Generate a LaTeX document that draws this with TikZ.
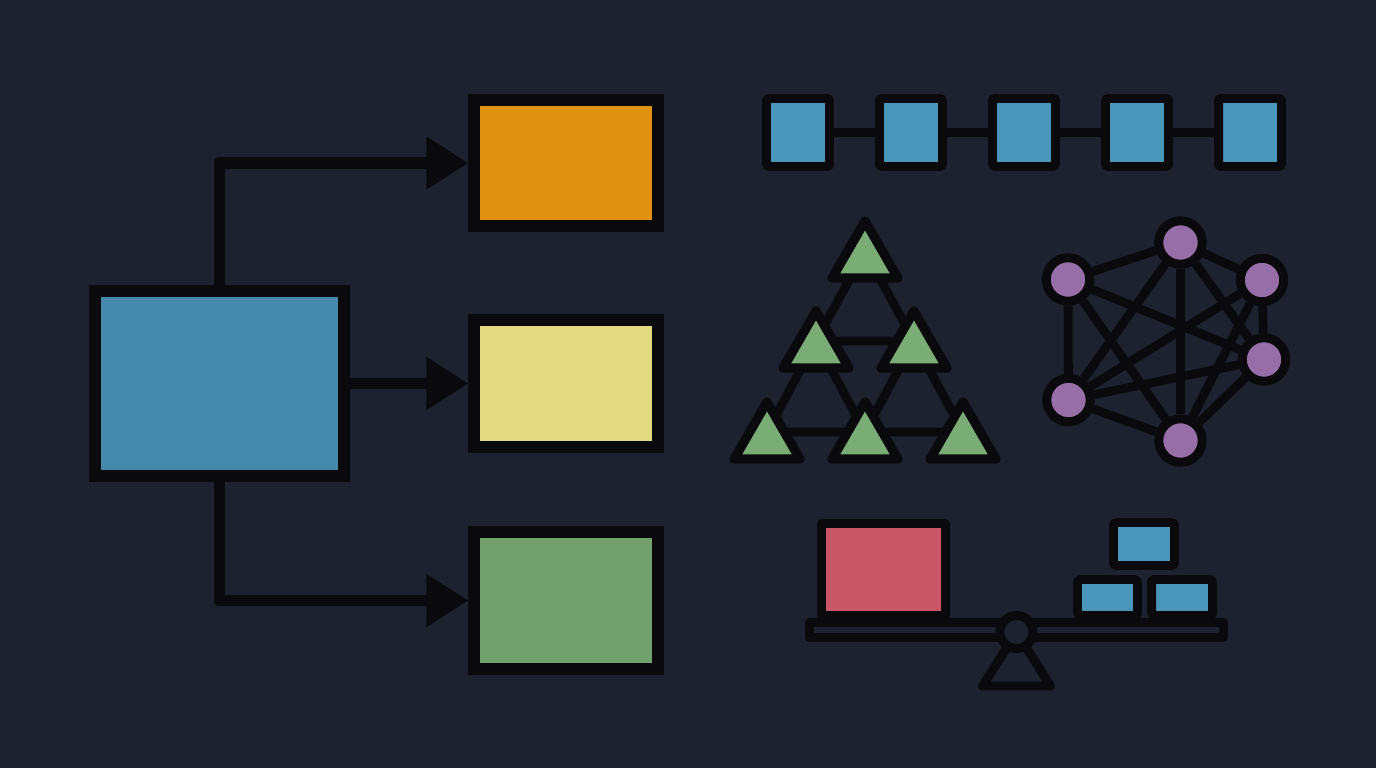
\documentclass[tikz,border=0pt]{standalone}
\usepackage{xcolor}
\usepackage{tikz}
\usetikzlibrary{arrows.meta, shapes, backgrounds}
\definecolor{fondo}{RGB}{29, 33, 48}
\definecolor{tinta}{RGB}{10, 10, 12}
\definecolor{azul}{RGB}{69, 137, 173}
\definecolor{azulclaro}{RGB}{74, 149, 186}
\definecolor{ambar}{RGB}{224, 146, 19}
\definecolor{amarillo}{RGB}{226, 218, 128}
\definecolor{verde}{RGB}{114, 160, 111}
\definecolor{verdeclaro}{RGB}{122, 172, 118}
\definecolor{lila}{RGB}{152, 110, 168}
\definecolor{rojo}{RGB}{200, 86, 102}
\tikzset{
    caja/.style={draw=tinta, line width=6.3pt, inner sep=0pt},
    flecha/.style={-{Triangle[length=0.84cm, width=1cm]}, tinta, line width=6.8pt, line join=round},
    eslabon/.style={draw=tinta, fill=azulclaro, line width=5.1pt, rounded corners=1.5pt, minimum width=1.26cm, minimum height=1.36cm, inner sep=0pt},
    enlace/.style={-, tinta, line width=5pt},
    tri/.style={draw=tinta, fill=verdeclaro, regular polygon, regular polygon sides=3, minimum size=1.52cm, line width=5.3pt, line join=round, inner sep=0pt},
    vert/.style={draw=tinta, fill=lila, circle, minimum size=0.87cm, line width=5.1pt, inner sep=0pt},
    arista/.style={-, tinta, line width=5pt},
    pieza/.style={draw=tinta, line width=5.1pt, inner sep=0pt, line join=round},
    bloque/.style={pieza, fill=azulclaro, rounded corners=1.5pt, minimum width=1.22cm},
}

\begin{document}
\begin{tikzpicture}[x=0.02cm, y=-0.02cm]
    \begin{scope}[on background layer]
        \fill[fondo] (0,0) rectangle (1376,768);
    \end{scope}

    % reparto
    \node[caja, fill=azul, minimum width=4.98cm, minimum height=3.7cm] (src) at (219.5,383.5) {};
    \node[caja, fill=ambar, minimum width=3.68cm, minimum height=2.52cm] (out1) at (566,163) {};
    \node[caja, fill=amarillo, minimum width=3.68cm, minimum height=2.54cm] (out2) at (566,383.5) {};
    \node[caja, fill=verde, minimum width=3.68cm, minimum height=2.74cm] (out3) at (566,600.5) {};

    \draw[flecha] (src.north) |- (out1.west);
    \draw[flecha] (src.east) -- (out2.west);
    \draw[flecha] (src.south) |- (out3.west);

    % cadena
    \node[eslabon] (b1) at (798,132.5) {};
    \node[eslabon] (b2) at (911,132.5) {};
    \node[eslabon] (b3) at (1024,132.5) {};
    \node[eslabon] (b4) at (1137,132.5) {};
    \node[eslabon] (b5) at (1250,132.5) {};

    \draw[enlace] (b1) -- (b2);
    \draw[enlace] (b2) -- (b3);
    \draw[enlace] (b3) -- (b4);
    \draw[enlace] (b4) -- (b5);

    % piramide
    \node[tri] (t1) at (865,259) {};
    \node[tri] (t2) at (816,349) {};
    \node[tri] (t3) at (914,349) {};
    \node[tri] (t4) at (767,440) {};
    \node[tri] (t5) at (865,440) {};
    \node[tri] (t6) at (963,440) {};

    \begin{scope}[on background layer]
        \draw[enlace] ([yshift=1.6mm]t1.center) -- ([yshift=1.6mm]t2.center) -- ([yshift=1.6mm]t3.center) -- cycle;
        \draw[enlace] ([yshift=1.6mm]t2.center) -- ([yshift=1.6mm]t4.center) -- ([yshift=1.6mm]t5.center) -- cycle;
        \draw[enlace] ([yshift=1.6mm]t3.center) -- ([yshift=1.6mm]t5.center) -- ([yshift=1.6mm]t6.center) -- cycle;
    \end{scope}

    % red
    \node[vert] (n1) at (1180.5,242.5) {};
    \node[vert] (n2) at (1068,279.5) {};
    \node[vert] (n3) at (1262,280) {};
    \node[vert] (n4) at (1264,359.5) {};
    \node[vert] (n5) at (1068.5,400) {};
    \node[vert] (n6) at (1180.5,440.5) {};

    \draw[arista] (n1) -- (n2);
    \draw[arista] (n1) -- (n3);
    \draw[arista] (n1) -- (n4);
    \draw[arista] (n1) -- (n5);
    \draw[arista] (n1) -- (n6);
    \draw[arista] (n2) -- (n4);
    \draw[arista] (n2) -- (n5);
    \draw[arista] (n2) -- (n6);
    \draw[arista] (n3) -- (n4);
    \draw[arista] (n3) -- (n5);
    \draw[arista] (n3) -- (n6);
    \draw[arista] (n4) -- (n5);
    \draw[arista] (n4) -- (n6);
    \draw[arista] (n5) -- (n6);

    % balanza
    \coordinate (piv) at (1016.5,632);
    \draw[pieza, fill=fondo] (piv) -- (982.5,686) -- (1050.5,686) -- cycle;
    \node[pieza, fill=rojo, minimum width=2.48cm, minimum height=1.84cm] (peso) at (883.5,569.5) {};
    \node[bloque, minimum height=0.86cm] (p1) at (1144,544) {};
    \node[bloque, minimum height=0.72cm, minimum width=1.2cm] (p2) at (1107.5,597.5) {};
    \node[bloque, minimum height=0.72cm] (p3) at (1182,597.5) {};
    \node[pieza, fill=fondo, minimum width=8.28cm, minimum height=0.3cm] (tabla) at (1016.5,630) {};
    \node[pieza, circle, fill=fondo, minimum size=0.66cm] (eje) at (piv) {};
\end{tikzpicture}
\end{document}
